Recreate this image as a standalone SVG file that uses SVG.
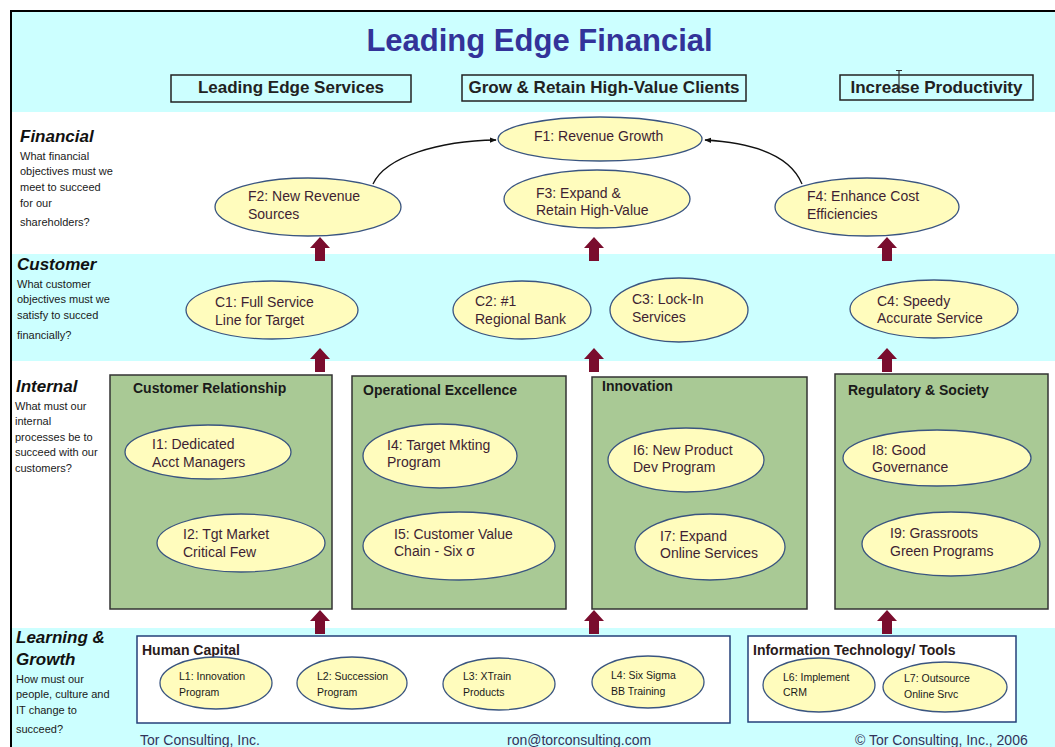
<svg xmlns="http://www.w3.org/2000/svg" width="1055" height="747" viewBox="0 0 1055 747">
  <defs>
    <style>
      .band-c { fill: #ccffff; }
      .band-w { fill: #ffffff; }
      .title { font: bold 31px "Liberation Sans", Arial, sans-serif; fill: #333399; }
      .theme-box { fill: none; stroke: #222; stroke-width: 1.5; }
      .theme { font: bold 17px "Liberation Sans", Arial, sans-serif; fill: #222; }
      .persp { font: italic bold 17px "Liberation Sans", Arial, sans-serif; fill: #111; }
      .q { font: 11px "Liberation Sans", Arial, sans-serif; fill: #1a1a1a; }
      .obj { fill: #fffcbd; stroke: #3a5580; stroke-width: 1.3; }
      .obj-t { font: 14px "Liberation Sans", Arial, sans-serif; fill: #3e1f33; }
      .obj-s { font: 10.5px "Liberation Sans", Arial, sans-serif; fill: #1a1a1a; }
      .group { fill: #a9c995; stroke: #333; stroke-width: 1.5; }
      .group-t { font: bold 14px "Liberation Sans", Arial, sans-serif; fill: #1a1a1a; }
      .lg-box { fill: #ffffff; stroke: #24407a; stroke-width: 1.5; }
      .lg-t { font: bold 14px "Liberation Sans", Arial, sans-serif; fill: #2a1a1a; }
      .foot { font: 14px "Liberation Sans", Arial, sans-serif; fill: #33335a; }
      .up { fill: #7a0d2e; }
      .link { fill: none; stroke: #111; stroke-width: 1.3; }
    </style>
    <marker id="head" viewBox="0 0 10 10" refX="9" refY="5" markerWidth="7" markerHeight="7" markerUnits="userSpaceOnUse" orient="auto">
      <path d="M0,1 L10,5 L0,9 Z" fill="#111"/>
    </marker>
    <path id="uparrow" d="M0,0 L10,11 L5,11 L5,24 L-5,24 L-5,11 L-10,11 Z"/>
  </defs>

  <!-- page background and perspective bands -->
  <rect x="0" y="0" width="1055" height="747" fill="#ffffff"/>
  <rect class="band-c" x="11" y="11" width="1044" height="101"/>
  <rect class="band-w" x="11" y="112" width="1044" height="142"/>
  <rect class="band-c" x="11" y="254" width="1044" height="107"/>
  <rect class="band-w" x="11" y="361" width="1044" height="267"/>
  <rect class="band-c" x="11" y="628" width="1044" height="119"/>
  <path d="M11,747 V11 H1055" fill="none" stroke="#000" stroke-width="2"/>

  <!-- heading and strategic themes -->
  <g id="header">
    <text class="title" x="539.5" y="51" text-anchor="middle">Leading Edge Financial</text>
    <g id="theme-services">
      <rect class="theme-box" x="171" y="75" width="240" height="27"/>
      <text class="theme" x="291" y="93" text-anchor="middle">Leading Edge Services</text>
    </g>
    <g id="theme-clients">
      <rect class="theme-box" x="462" y="75" width="284" height="26"/>
      <text class="theme" x="604" y="93" text-anchor="middle">Grow &amp; Retain High-Value Clients</text>
    </g>
    <g id="theme-productivity">
      <rect class="theme-box" x="840" y="75" width="193" height="25"/>
      <text class="theme" x="936.5" y="93" text-anchor="middle">Increase Productivity</text>
    </g>
    <!-- text cursor -->
    <path d="M896,70.5 H902 M899,70.5 V88 M896,88 H902" fill="none" stroke="#333" stroke-width="1.2"/>
  </g>

  <!-- perspective labels -->
  <g id="label-financial">
    <text class="persp" x="20" y="142">Financial</text>
    <text class="q" x="20" y="160">What financial</text>
    <text class="q" x="20" y="175">objectives must we</text>
    <text class="q" x="20" y="191">meet to succeed</text>
    <text class="q" x="20" y="207">for our</text>
    <text class="q" x="20" y="226">shareholders?</text>
  </g>
  <g id="label-customer">
    <text class="persp" x="17" y="270">Customer</text>
    <text class="q" x="17" y="288">What customer</text>
    <text class="q" x="17" y="303">objectives must we</text>
    <text class="q" x="17" y="319">satisfy to succed</text>
    <text class="q" x="17" y="339">financially?</text>
  </g>
  <g id="label-internal">
    <text class="persp" x="16" y="392">Internal</text>
    <text class="q" x="15" y="410">What must our</text>
    <text class="q" x="15" y="425">internal</text>
    <text class="q" x="15" y="441">processes be to</text>
    <text class="q" x="15" y="456">succeed with our</text>
    <text class="q" x="15" y="472">customers?</text>
  </g>
  <g id="label-learning">
    <text class="persp" x="16" y="643">Learning &amp;</text>
    <text class="persp" x="16" y="665">Growth</text>
    <text class="q" x="16" y="683">How must our</text>
    <text class="q" x="16" y="698">people, culture and</text>
    <text class="q" x="16" y="714">IT change to</text>
    <text class="q" x="16" y="733">succeed?</text>
  </g>

  <!-- internal process groups -->
  <g id="grp-customer-relationship">
    <rect class="group" x="110" y="375" width="222" height="234"/>
    <text class="group-t" x="133" y="393">Customer Relationship</text>
  </g>
  <g id="grp-operational-excellence">
    <rect class="group" x="352" y="376" width="214" height="233"/>
    <text class="group-t" x="363" y="395">Operational Excellence</text>
  </g>
  <g id="grp-innovation">
    <rect class="group" x="592" y="377" width="215" height="232"/>
    <text class="group-t" x="602" y="391">Innovation</text>
  </g>
  <g id="grp-regulatory">
    <rect class="group" x="835" y="374" width="213" height="235"/>
    <text class="group-t" x="848" y="395">Regulatory &amp; Society</text>
  </g>

  <!-- learning and growth groups -->
  <g id="grp-human-capital">
    <rect class="lg-box" x="137" y="636" width="593" height="87"/>
    <text class="lg-t" x="142" y="655">Human Capital</text>
  </g>
  <g id="grp-it-tools">
    <rect class="lg-box" x="748" y="636" width="268" height="86"/>
    <text class="lg-t" x="753" y="655" font-size="13.7">Information Technology/ Tools</text>
  </g>

  <!-- connectors -->
  <g id="connectors">
    <path class="link" d="M373,184 C386,156 440,141 496,140" marker-end="url(#head)"/>
    <path class="link" d="M802,184 C791,157 757,143 705,140" marker-end="url(#head)"/>
    <use href="#uparrow" class="up" x="320" y="237"/>
    <use href="#uparrow" class="up" x="594" y="237"/>
    <use href="#uparrow" class="up" x="887" y="237"/>
    <use href="#uparrow" class="up" x="320" y="348"/>
    <use href="#uparrow" class="up" x="594" y="348"/>
    <use href="#uparrow" class="up" x="887" y="348"/>
    <use href="#uparrow" class="up" x="320" y="610"/>
    <use href="#uparrow" class="up" x="594" y="610"/>
    <use href="#uparrow" class="up" x="887" y="610"/>
  </g>

  <!-- financial objectives -->
  <g id="F1">
    <ellipse class="obj" cx="600" cy="139" rx="102" ry="22"/>
    <text class="obj-t" x="534" y="141">F1: Revenue Growth</text>
  </g>
  <g id="F2">
    <ellipse class="obj" cx="308" cy="207" rx="93" ry="29"/>
    <text class="obj-t" x="248" y="201">F2: New Revenue</text>
    <text class="obj-t" x="248" y="219">Sources</text>
  </g>
  <g id="F3">
    <ellipse class="obj" cx="597" cy="199" rx="93" ry="29"/>
    <text class="obj-t" x="536" y="198">F3: Expand &amp;</text>
    <text class="obj-t" x="536" y="215">Retain High-Value</text>
  </g>
  <g id="F4">
    <ellipse class="obj" cx="867" cy="207" rx="92" ry="29"/>
    <text class="obj-t" x="807" y="201">F4: Enhance Cost</text>
    <text class="obj-t" x="807" y="219">Efficiencies</text>
  </g>

  <!-- customer objectives -->
  <g id="C1">
    <ellipse class="obj" cx="272" cy="310" rx="86" ry="29"/>
    <text class="obj-t" x="215" y="307">C1: Full Service</text>
    <text class="obj-t" x="215" y="325">Line for Target</text>
  </g>
  <g id="C2">
    <ellipse class="obj" cx="522" cy="310" rx="69" ry="29"/>
    <text class="obj-t" x="475" y="306">C2: #1</text>
    <text class="obj-t" x="475" y="324">Regional Bank</text>
  </g>
  <g id="C3">
    <ellipse class="obj" cx="679" cy="310" rx="69" ry="32"/>
    <text class="obj-t" x="632" y="304">C3: Lock-In</text>
    <text class="obj-t" x="632" y="322">Services</text>
  </g>
  <g id="C4">
    <ellipse class="obj" cx="934" cy="309" rx="84" ry="29"/>
    <text class="obj-t" x="877" y="306">C4: Speedy</text>
    <text class="obj-t" x="877" y="323">Accurate Service</text>
  </g>

  <!-- internal process objectives -->
  <g id="I1">
    <ellipse class="obj" cx="208" cy="452" rx="83" ry="27"/>
    <text class="obj-t" x="152" y="449">I1: Dedicated</text>
    <text class="obj-t" x="152" y="467">Acct Managers</text>
  </g>
  <g id="I2">
    <ellipse class="obj" cx="241" cy="543" rx="84" ry="29"/>
    <text class="obj-t" x="183" y="539">I2: Tgt Market</text>
    <text class="obj-t" x="183" y="557">Critical Few</text>
  </g>
  <g id="I4">
    <ellipse class="obj" cx="440" cy="456" rx="77" ry="32"/>
    <text class="obj-t" x="387" y="450">I4: Target Mkting</text>
    <text class="obj-t" x="387" y="467">Program</text>
  </g>
  <g id="I5">
    <ellipse class="obj" cx="459" cy="546" rx="96" ry="34"/>
    <text class="obj-t" x="394" y="539">I5: Customer Value</text>
    <text class="obj-t" x="394" y="556">Chain - Six σ</text>
  </g>
  <g id="I6">
    <ellipse class="obj" cx="686" cy="460" rx="78" ry="32"/>
    <text class="obj-t" x="633" y="455">I6: New Product</text>
    <text class="obj-t" x="633" y="472">Dev Program</text>
  </g>
  <g id="I7">
    <ellipse class="obj" cx="710" cy="547" rx="75" ry="33"/>
    <text class="obj-t" x="660" y="541">I7: Expand</text>
    <text class="obj-t" x="660" y="558">Online Services</text>
  </g>
  <g id="I8">
    <ellipse class="obj" cx="937" cy="458" rx="94" ry="28"/>
    <text class="obj-t" x="872" y="455">I8: Good</text>
    <text class="obj-t" x="872" y="472">Governance</text>
  </g>
  <g id="I9">
    <ellipse class="obj" cx="951" cy="544" rx="89" ry="32"/>
    <text class="obj-t" x="890" y="538">I9: Grassroots</text>
    <text class="obj-t" x="890" y="556">Green Programs</text>
  </g>

  <!-- learning and growth objectives -->
  <g id="L1">
    <ellipse class="obj" cx="216" cy="683" rx="56" ry="26"/>
    <text class="obj-s" x="179" y="680">L1: Innovation</text>
    <text class="obj-s" x="179" y="696">Program</text>
  </g>
  <g id="L2">
    <ellipse class="obj" cx="352" cy="683" rx="55" ry="26"/>
    <text class="obj-s" x="317" y="680">L2: Succession</text>
    <text class="obj-s" x="317" y="696">Program</text>
  </g>
  <g id="L3">
    <ellipse class="obj" cx="499" cy="684" rx="56" ry="26"/>
    <text class="obj-s" x="463" y="680">L3: XTrain</text>
    <text class="obj-s" x="463" y="696">Products</text>
  </g>
  <g id="L4">
    <ellipse class="obj" cx="648" cy="682" rx="56" ry="26"/>
    <text class="obj-s" x="611" y="679">L4: Six Sigma</text>
    <text class="obj-s" x="611" y="695">BB Training</text>
  </g>
  <g id="L6">
    <ellipse class="obj" cx="819" cy="685" rx="56" ry="27"/>
    <text class="obj-s" x="783" y="681">L6: Implement</text>
    <text class="obj-s" x="783" y="696">CRM</text>
  </g>
  <g id="L7">
    <ellipse class="obj" cx="945" cy="687" rx="62" ry="25"/>
    <text class="obj-s" x="904" y="682">L7: Outsource</text>
    <text class="obj-s" x="904" y="698">Online Srvc</text>
  </g>

  <!-- footer -->
  <g id="footer">
    <text class="foot" x="140" y="745">Tor Consulting, Inc.</text>
    <text class="foot" x="507" y="745">ron@torconsulting.com</text>
    <text class="foot" x="855" y="745">© Tor Consulting, Inc., 2006</text>
  </g>
</svg>
